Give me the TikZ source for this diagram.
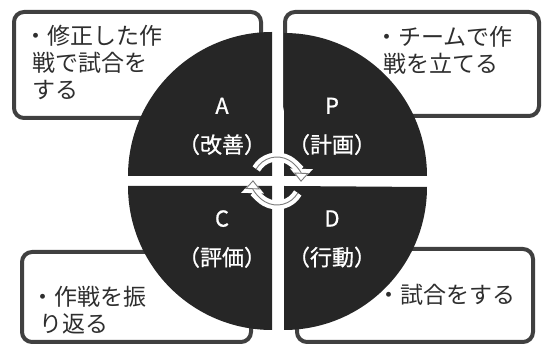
\documentclass[tikz,border=0pt]{standalone}
\usepackage{fontspec}
\setmainfont{Noto Sans CJK JP}
\newfontfamily\labelfont[FakeBold=0.8]{Noto Sans CJK JP}
\usetikzlibrary{arrows.meta}
\definecolor{quad}{HTML}{262626}
\definecolor{boxline}{HTML}{404040}
\definecolor{boxtext}{HTML}{2E2E2E}
\definecolor{ringline}{HTML}{7A7A7A}
\begin{document}
\begin{tikzpicture}[x=1pt,y=1pt,
  infobox/.style={draw=boxline, line width=4pt, fill=white, rounded corners=10pt, inner sep=0pt, outer sep=0pt},
  quadrant/.style={fill=quad, draw=none},
  boxtxt/.style={text=boxtext, font=\fontsize{23}{27}\selectfont, align=left, inner sep=0pt, anchor=west},
  quadlabel/.style={text=white, font=\labelfont\fontsize{22}{39}\selectfont, align=center, inner sep=0pt},
  ringwhite/.style={white, line width=9pt, -{Triangle[length=13pt,width=22pt]}},
  ringgray/.style={ringline, line width=0.9pt, -{Triangle[open,length=9pt,width=15pt,line width=0.9pt]}},
  ]
\useasboundingbox (0,0) rectangle (542,345);
% boxes
\node[infobox, minimum width=247, minimum height=106] (boxA) at (137.5,280) {};
\node[infobox, minimum width=254, minimum height=104] (boxP) at (412,281) {};
\node[infobox, minimum width=229, minimum height=90] (boxC) at (136.5,48) {};
\node[infobox, minimum width=236, minimum height=93] (boxD) at (415,49.5) {};
% quadrants
\fill[quadrant] (272,169) -- ++(0,144) arc[start angle=90,end angle=180,radius=144] -- cycle;
\fill[quadrant] (284,169) -- ++(143,0) arc[start angle=0,end angle=90,radius=143] -- cycle;
\fill[quadrant] (272,159) -- ++(-144,0) arc[start angle=180,end angle=270,radius=144] -- cycle;
\fill[quadrant] (284,159) -- ++(0,-144) arc[start angle=270,end angle=360,radius=143] -- cycle;
% box texts
\node[boxtxt] (txtA) at (24,282.3) {・修正した作\\\hspace*{0.38em}戦で試合を\\\hspace*{0.38em}する};
\node[boxtxt] (txtP) at (375,295) {・チームで作\\\hspace*{0.38em}戦を立てる};
\node[boxtxt] (txtC) at (31,34.5) {・作戦を振\\\hspace*{0.38em}り返る};
\node[boxtxt] (txtD) at (377,50) {・試合をする};
% quadrant labels
\node[quadlabel] (labA) at (222,218.6) {A\\（改善）};
\node[quadlabel] (labP) at (332,218.6) {P\\（計画）};
\node[quadlabel] (labC) at (222,106) {C\\（評価）};
\node[quadlabel] (labD) at (332,106) {D\\（行動）};
% cycle arrows
\coordinate (rc) at (277,164);
\draw[ringwhite] ([shift={(150:24)}]rc) arc[start angle=150,end angle=-2,radius=24];
\draw[ringwhite] ([shift={(-30:24)}]rc) arc[start angle=-30,end angle=-182,radius=24];
\draw[ringgray] ([shift={(150:24)}]rc) arc[start angle=150,end angle=-2,radius=24];
\draw[ringgray] ([shift={(-30:24)}]rc) arc[start angle=-30,end angle=-182,radius=24];
\end{tikzpicture}
\end{document}
